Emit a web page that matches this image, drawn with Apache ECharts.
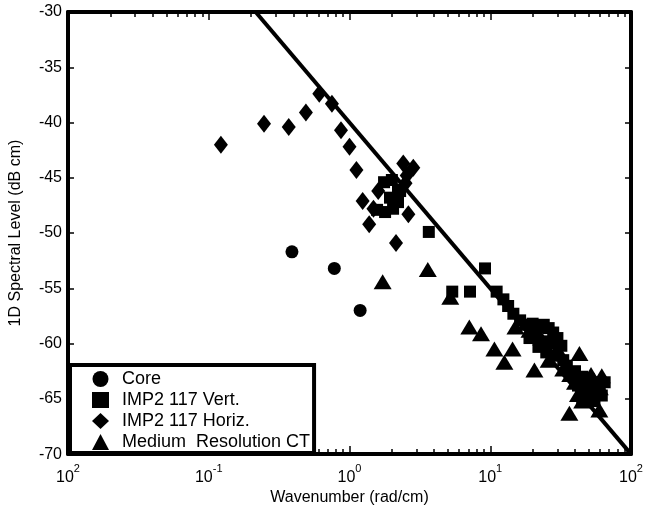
<!DOCTYPE html>
<html>
<head>
<meta charset="utf-8">
<script src="https://cdn.jsdelivr.net/npm/echarts@6/dist/echarts.min.js"></script>
<style>
  html, body { margin: 0; padding: 0; background: #fff; }
  #chart { width: 646px; height: 511px; }
</style>
</head>
<body>
<div id="chart"></div>
<script>
// Wavenumber (rad/cm), spectral level (dB cm)
const coreData = [
  [0.39, -51.7], [0.78, -53.2], [1.19, -57.0]
];
const vertData = [
  [1.76, -45.4], [2.0, -45.2], [2.21, -46.1], [1.94, -46.8], [1.57, -47.9],
  [1.79, -48.1], [2.04, -47.8], [2.21, -47.2], [2.29, -46.2], [3.66, -49.9],
  [5.37, -55.3], [7.18, -55.3], [9.18, -53.2],
  [11.1, -55.3], [12.4, -56.0], [13.4, -56.6], [14.6, -57.3], [16.3, -57.9], [17.8, -58.3],
  [20, -58.2], [22, -58.5], [24, -58.3], [26, -58.6], [28, -59.0], [21, -59.4],
  [24, -59.8], [27, -60.0], [30, -59.5], [32, -60.2], [25, -60.8], [29, -61.1],
  [33, -61.5], [22, -60.3], [35, -62.0], [19, -59.5],
  [40, -62.5], [45, -63.0], [50, -63.2], [55, -63.5], [60, -63.8], [42, -63.8],
  [47, -64.2], [52, -64.5], [58, -64.3], [62, -64.7], [45, -65.0], [55, -65.2],
  [38, -62.8], [65, -63.5]
];
const horizData = [
  [0.122, -42.0], [0.247, -40.1], [0.37, -40.4], [0.49, -39.1], [0.61, -37.4],
  [0.75, -38.3], [0.87, -40.7], [1.0, -42.2], [1.12, -44.3], [1.24, -47.1],
  [1.38, -49.2], [1.48, -47.8], [1.60, -46.2], [2.14, -50.9], [2.62, -48.3],
  [2.41, -43.7], [2.84, -44.1], [2.55, -44.8], [2.5, -45.5]
];
const ctData = [
  [1.72, -54.4], [3.6, -53.3], [5.2, -55.8], [7.1, -58.5], [8.6, -59.1],
  [10.7, -60.5], [14.4, -60.5], [12.6, -61.7], [20.6, -62.4], [43, -60.9],
  [36.5, -66.3], [15.1, -58.5], [45, -65.2], [59.6, -66.0],
  [19, -58.8], [23, -59.5], [30, -60.5], [26, -61.5], [33, -62.3], [37, -62.8],
  [40, -63.5], [48, -63.2], [52, -62.8], [56, -63.6], [60, -64.0], [62, -62.9],
  [50, -64.8], [42, -64.6]
];
// Reference slope line, -15 dB per decade
const slopeLine = [[0.2154, -30], [100, -70]];

const seriesNames = ['Core', 'IMP2 117 Vert.', 'IMP2 117 Horiz.', 'Medium  Resolution CT'];
const xTickBase = '10';
const xTickExp = ['2', '-1', '0', '1', '2'];
const xTickDecades = [-2, -1, 0, 1, 2];

// minor tick positions, in decades
const minorTicks = [];
for (let d = -2; d < 2; d++) {
  for (let m = 2; m <= 9; m++) minorTicks.push(d + Math.log10(m));
}

const FONT = '"Liberation Sans", Arial, Helvetica, sans-serif';
const INK = '#000';

const frameLine = { show: true, onZero: false, lineStyle: { color: '#000', width: 4 } };
const markStyle = { color: '#000', opacity: 1 };
const minorTick = { show: true, inside: true, length: 5, customValues: minorTicks, lineStyle: { color: '#000', width: 1.5 } };

const chart = echarts.init(document.getElementById('chart'), null, { renderer: 'canvas' });

chart.setOption({
  backgroundColor: '#fff',
  animation: false,
  textStyle: { fontFamily: FONT },
  grid: { left: 68, right: 15, top: 12, bottom: 51, containLabel: false },
  legend: {
    orient: 'vertical',
    left: 70,
    top: 365,
    data: seriesNames,
    selectedMode: false,
    backgroundColor: '#fff',
    borderColor: '#000',
    borderWidth: 4,
    borderRadius: 0,
    padding: [5, 4, 2, 22],
    itemWidth: 17,
    itemHeight: 16,
    itemGap: 3,
    symbolKeepAspect: true,
    itemStyle: { opacity: 1 },
    textStyle: { fontSize: 18, color: INK, fontFamily: FONT, padding: [0, 0, 0, 8] }
  },
  xAxis: [
    {
      type: 'log', logBase: 10, min: 0.01, max: 100, position: 'bottom',
      name: 'Wavenumber (rad/cm)', nameLocation: 'middle', nameGap: 30,
      nameTextStyle: { fontSize: 16, color: INK, fontFamily: FONT },
      axisLine: frameLine,
      axisTick: { show: true, inside: true, length: 8, lineStyle: { color: '#000', width: 1.5 } },
      splitLine: { show: false },
      axisLabel: {
        margin: 9,
        color: INK,
        formatter: function (v) {
          const i = xTickDecades.indexOf(Math.round(Math.log10(v)));
          return '{b|' + xTickBase + '}{e|' + xTickExp[i] + '}';
        },
        rich: {
          b: { fontSize: 16, color: INK, fontFamily: FONT, lineHeight: 22, verticalAlign: 'bottom' },
          e: { fontSize: 11, color: INK, fontFamily: FONT, lineHeight: 11, verticalAlign: 'top' }
        }
      }
    },
    {
      type: 'log', logBase: 10, min: 0.01, max: 100, position: 'top',
      axisLine: frameLine,
      axisTick: { show: true, inside: true, length: 8, lineStyle: { color: '#000', width: 1.5 } },
      axisLabel: { show: false },
      splitLine: { show: false }
    },
    {
      type: 'value', min: -2, max: 2, position: 'bottom',
      axisLine: { show: false, onZero: false },
      axisTick: minorTick,
      axisLabel: { show: false },
      splitLine: { show: false }
    },
    {
      type: 'value', min: -2, max: 2, position: 'top',
      axisLine: { show: false, onZero: false },
      axisTick: minorTick,
      axisLabel: { show: false },
      splitLine: { show: false }
    }
  ],
  yAxis: [
    {
      type: 'value', min: -70, max: -30, interval: 5, position: 'left',
      name: '1D Spectral Level (dB cm)', nameLocation: 'middle', nameGap: 44,
      nameTextStyle: { fontSize: 16, color: INK, fontFamily: FONT },
      axisLine: frameLine,
      axisTick: { show: true, inside: true, length: 6, lineStyle: { color: '#000', width: 1.5 } },
      axisLabel: { fontSize: 16, color: INK, margin: 6 },
      splitLine: { show: false }
    },
    {
      type: 'value', min: -70, max: -30, interval: 5, position: 'right',
      axisLine: frameLine,
      axisTick: { show: true, inside: true, length: 6, lineStyle: { color: '#000', width: 1.5 } },
      axisLabel: { show: false },
      splitLine: { show: false }
    }
  ],
  series: [
    {
      name: seriesNames[0], type: 'scatter', data: coreData,
      symbol: 'circle', symbolSize: 13, itemStyle: markStyle
    },
    {
      name: seriesNames[1], type: 'scatter', data: vertData,
      symbol: 'rect', symbolSize: 12, itemStyle: markStyle
    },
    {
      name: seriesNames[2], type: 'scatter', data: horizData,
      symbol: 'diamond', symbolSize: [14, 18], itemStyle: markStyle
    },
    {
      name: seriesNames[3], type: 'scatter', data: ctData,
      symbol: 'triangle', symbolSize: [18, 15], itemStyle: markStyle
    },
    {
      name: 'slope', type: 'line', data: slopeLine,
      symbol: 'none', lineStyle: { color: '#000', width: 4 }, z: 3
    }
  ]
});
</script>
</body>
</html>
